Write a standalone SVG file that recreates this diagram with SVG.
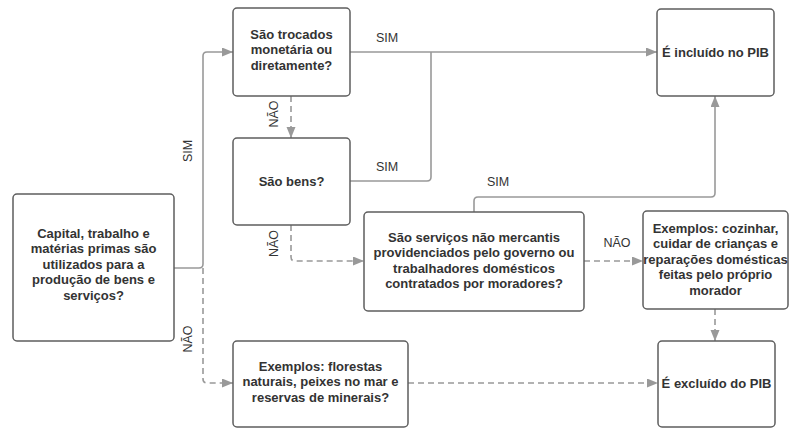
<svg xmlns="http://www.w3.org/2000/svg" width="789" height="428" viewBox="0 0 789 428">
<defs>
<style>
.box{fill:#fff;stroke:#5e5e5e;stroke-width:1.5}
.t{font-family:"Liberation Sans",Arial,sans-serif;font-size:13px;font-weight:bold;fill:#333;text-anchor:middle}
.lbl{font-family:"Liberation Sans",Arial,sans-serif;font-size:12.5px;fill:#333;text-anchor:middle}
.c{fill:none;stroke:#999;stroke-width:1.6}
.d{stroke-dasharray:6 4}
</style>
<marker id="ah" markerUnits="userSpaceOnUse" markerWidth="12" markerHeight="10" refX="11" refY="4.5" orient="auto">
<path d="M0,0 L11,4.5 L0,9 z" fill="#999"/>
</marker>
</defs>
<rect width="789" height="428" fill="#fff"/>
<g id="connectors">
<path class="c" d="M174,268 L199,268 Q203,268 203,264 L203,56 Q203,52 207,52 L233,52" marker-end="url(#ah)"/>
<path class="c d" d="M203,268 L203,379 Q203,383 207,383 L233,383" marker-end="url(#ah)"/>
<path class="c d" d="M291,96 L291,138" marker-end="url(#ah)"/>
<path class="c" d="M350,52 L657,52" marker-end="url(#ah)"/>
<path class="c" d="M350,181 L427,181 Q431,181 431,177 L431,52"/>
<path class="c d" d="M291,225 L291,257 Q291,261 295,261 L364,261" marker-end="url(#ah)"/>
<path class="c" d="M474,212 L474,201 Q474,197 478,197 L711,197 Q715,197 715,193 L715,96" marker-end="url(#ah)"/>
<path class="c d" d="M584,261 L643,261" marker-end="url(#ah)"/>
<path class="c d" d="M715,309 L715,341" marker-end="url(#ah)"/>
<path class="c d" d="M408,383 L658,383" marker-end="url(#ah)"/>
<text class="lbl" transform="translate(192,151) rotate(-90)">SIM</text>
<text class="lbl" transform="translate(192,339) rotate(-90)">NÃO</text>
<text class="lbl" transform="translate(278,114) rotate(-90)">NÃO</text>
<text class="lbl" transform="translate(278,243.5) rotate(-90)">NÃO</text>
<text class="lbl" x="387" y="41.5">SIM</text>
<text class="lbl" x="387" y="171">SIM</text>
<text class="lbl" x="498" y="186">SIM</text>
<text class="lbl" x="617" y="247">NÃO</text>
</g>
<g id="nodeA">
<rect class="box" x="13" y="194" width="161" height="147" rx="4"/>
<text class="t" x="93.5" y="237.5">Capital, trabalho e</text>
<text class="t" x="93.5" y="253">matérias primas são</text>
<text class="t" x="93.5" y="268.5">utilizados para a</text>
<text class="t" x="93.5" y="284">produção de bens e</text>
<text class="t" x="93.5" y="299.5">serviços?</text>
</g>
<g id="nodeB">
<rect class="box" x="233" y="8" width="117" height="88" rx="4"/>
<text class="t" x="291.5" y="38.5">São trocados</text>
<text class="t" x="291.5" y="54">monetária ou</text>
<text class="t" x="291.5" y="69.5">diretamente?</text>
</g>
<g id="nodeC">
<rect class="box" x="233" y="138" width="117" height="87" rx="4"/>
<text class="t" x="291.5" y="185.5">São bens?</text>
</g>
<g id="nodeD">
<rect class="box" x="364" y="212" width="220" height="99" rx="4"/>
<text class="t" x="474" y="241.5">São serviços não mercantis</text>
<text class="t" x="474" y="257">providenciados pelo governo ou</text>
<text class="t" x="474" y="272.5">trabalhadores domésticos</text>
<text class="t" x="474" y="288">contratados por moradores?</text>
</g>
<g id="nodeE">
<rect class="box" x="643" y="211" width="145" height="98" rx="4"/>
<text class="t" x="715.5" y="232.5">Exemplos: cozinhar,</text>
<text class="t" x="715.5" y="248">cuidar de crianças e</text>
<text class="t" x="715.5" y="263.5">reparações domésticas</text>
<text class="t" x="715.5" y="279">feitas pelo próprio</text>
<text class="t" x="715.5" y="294.5">morador</text>
</g>
<g id="nodeF">
<rect class="box" x="657" y="9" width="117" height="87" rx="4"/>
<text class="t" x="715.5" y="56.5">É incluído no PIB</text>
</g>
<g id="nodeG">
<rect class="box" x="658" y="341" width="117" height="86" rx="4"/>
<text class="t" x="716.5" y="387.5">É excluído do PIB</text>
</g>
<g id="nodeH">
<rect class="box" x="233" y="341" width="175" height="86" rx="4"/>
<text class="t" x="320.5" y="370.5">Exemplos: florestas</text>
<text class="t" x="320.5" y="386">naturais, peixes no mar e</text>
<text class="t" x="320.5" y="401.5">reservas de minerais?</text>
</g>
</svg>
